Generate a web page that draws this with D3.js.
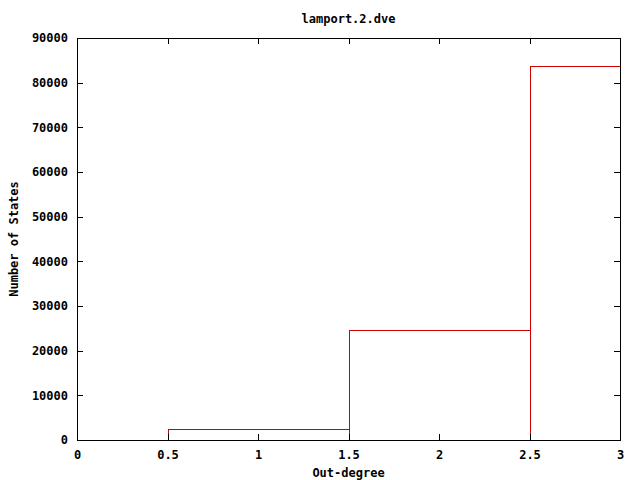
<!DOCTYPE html>
<html>
<head>
<meta charset="utf-8">
<script src="https://cdn.jsdelivr.net/npm/d3@7"></script>
<style>
  body { margin: 0; background: #fff; }
  text { font-family: "DejaVu Sans Mono", monospace; font-weight: bold; font-size: 12px; fill: #000; }
</style>
</head>
<body>
<svg id="chart"></svg>
<script>
const TITLE = "lamport.2.dve";
const X_LABEL = "Out-degree";
const Y_LABEL = "Number of States";

// histogram: out-degree -> number of states
const degrees = [1, 2, 3];
const counts = [2500, 24600, 83700];

const xTicks = [0, 0.5, 1, 1.5, 2, 2.5, 3];
const yTicks = [0, 10000, 20000, 30000, 40000, 50000, 60000, 70000, 80000, 90000];

const WIDTH = 640;
const HEIGHT = 480;
const PADDING = { LEFT: 77, RIGHT: 20, TOP: 38, BOTTOM: 40 };
const TICK = 6;

let svg = d3.select("#chart")
  .attr("width", WIDTH)
  .attr("height", HEIGHT);

let xScale = d3.scaleLinear()
  .domain([0, 3])
  .range([PADDING.LEFT, WIDTH - PADDING.RIGHT]);
let yScale = d3.scaleLinear()
  .domain([0, 90000])
  .range([HEIGHT - PADDING.BOTTOM, PADDING.TOP]);

// clip to the plot frame
svg.append("clipPath")
  .attr("id", "clip")
  .append("rect")
    .attr("x", PADDING.LEFT)
    .attr("y", PADDING.TOP)
    .attr("width", WIDTH - PADDING.LEFT - PADDING.RIGHT)
    .attr("height", HEIGHT - PADDING.TOP - PADDING.BOTTOM);

// boxes, one per degree, width 1
svg.append("g")
  .attr("clip-path", "url(#clip)")
  .selectAll("rect")
  .data(degrees)
  .enter()
  .append("rect")
    .attr("x", d => Math.round(xScale(d - 0.5)) + 0.5)
    .attr("y", (d, i) => Math.round(yScale(counts[i])) + 0.5)
    .attr("width", d => Math.round(xScale(d + 0.5)) - Math.round(xScale(d - 0.5)))
    .attr("height", (d, i) => Math.round(yScale(0)) - Math.round(yScale(counts[i])))
    .attr("fill", "none")
    .attr("stroke", "#cc0000")
    .attr("stroke-width", 1)
    .attr("shape-rendering", "crispEdges");

// axes: bottom/left with labels, top/right mirrored, ticks pointing inward
svg.append("g")
  .attr("transform", `translate(0,${yScale(0)})`)
  .call(d3.axisBottom(xScale).tickValues(xTicks).tickSizeInner(-TICK).tickSizeOuter(0).tickPadding(10)
    .tickFormat(d3.format("")));

svg.append("g")
  .attr("transform", `translate(0,${yScale(90000)})`)
  .call(d3.axisTop(xScale).tickValues(xTicks).tickSizeInner(-TICK).tickSizeOuter(0).tickFormat(""));

svg.append("g")
  .attr("transform", `translate(${xScale(0)},0)`)
  .call(d3.axisLeft(yScale).tickValues(yTicks).tickSizeInner(-TICK).tickSizeOuter(0).tickPadding(9)
    .tickFormat(d3.format("d")));

svg.append("g")
  .attr("transform", `translate(${xScale(3)},0)`)
  .call(d3.axisRight(yScale).tickValues(yTicks).tickSizeInner(-TICK).tickSizeOuter(0).tickFormat(""));

svg.selectAll(".domain, .tick line")
  .attr("stroke", "#000")
  .attr("shape-rendering", "crispEdges");
svg.selectAll(".tick text")
  .style("font-family", "DejaVu Sans Mono, monospace")
  .style("font-weight", "bold")
  .style("font-size", "12px");

// labels
svg.append("text")
  .attr("x", (xScale(0) + xScale(3)) / 2)
  .attr("y", 23)
  .style("text-anchor", "middle")
  .text(TITLE);

svg.append("text")
  .attr("x", (xScale(0) + xScale(3)) / 2)
  .attr("y", 477)
  .style("text-anchor", "middle")
  .text(X_LABEL);

svg.append("text")
  .attr("transform", `translate(18,${(yScale(0) + yScale(90000)) / 2}) rotate(-90)`)
  .style("text-anchor", "middle")
  .text(Y_LABEL);
</script>
</body>
</html>
